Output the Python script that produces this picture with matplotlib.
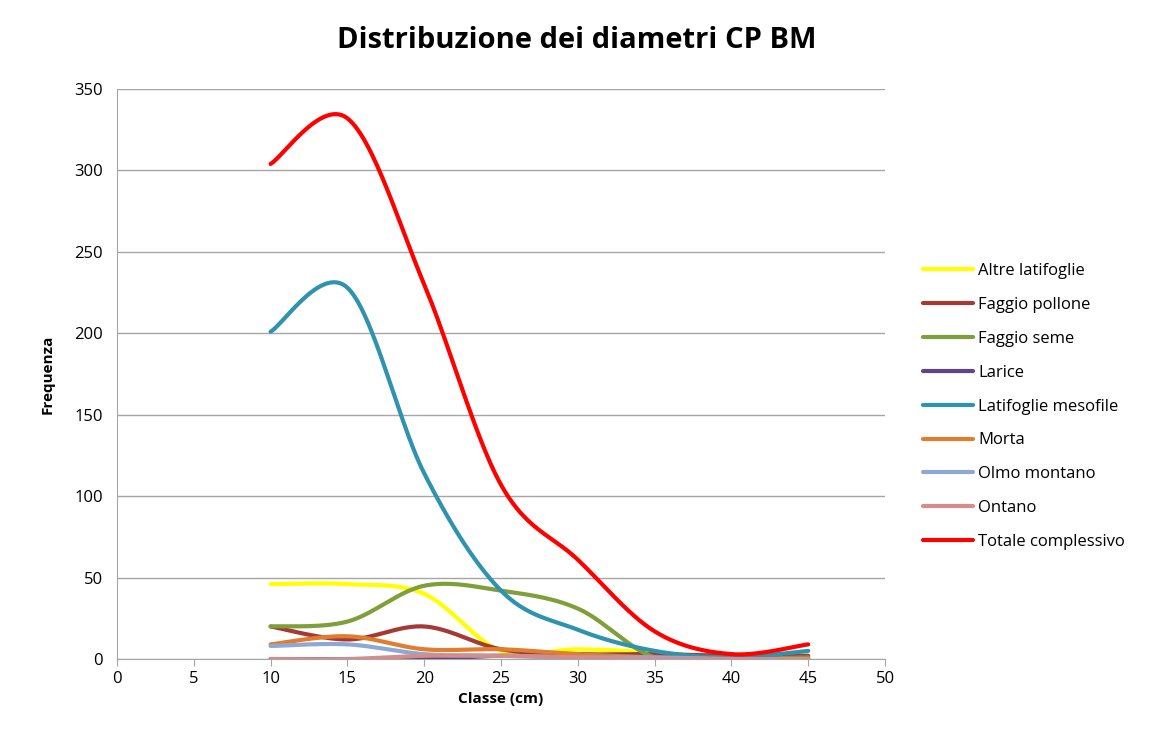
import numpy as np
from matplotlib import pyplot as plt

# diameter classes (cm)
classes = [10, 15, 20, 25, 30, 35, 40, 45]

altre_latifoglie = [46, 46, 40, 5, 6, 4, 0, 1]
faggio_pollone = [20, 12, 20, 6, 3, 3, 2, 2]
faggio_seme = [20, 23, 45, 42, 31, 1, 0, 1]
larice = [0, 0, 0, 2, 1, 0, 0, 0]
latifoglie_mesofile = [201, 228, 114, 42, 18, 5, 1, 5]
morta = [9, 14, 6, 6, 3, 1, 0, 0]
olmo_montano = [8, 9, 3, 2, 1, 1, 0, 0]
ontano = [0, 0, 2, 2, 1, 0, 0, 0]
totale = [304, 332, 230, 107, 61, 17, 3, 9]

series = [
    ("Altre latifoglie", altre_latifoglie, "#FFFF00"),
    ("Faggio pollone", faggio_pollone, "#A33A36"),
    ("Faggio seme", faggio_seme, "#7F9F3A"),
    ("Larice", larice, "#5E4587"),
    ("Latifoglie mesofile", latifoglie_mesofile, "#2F93AE"),
    ("Morta", morta, "#E07D2E"),
    ("Olmo montano", olmo_montano, "#8EA8D6"),
    ("Ontano", ontano, "#D58D8B"),
    ("Totale complessivo", totale, "#FF0000"),
]


def smooth(x, y, n=30):
    # Excel-like smoothed line: cubic bezier through the points
    x = np.asarray(x, float)
    y = np.asarray(y, float)
    px = np.concatenate([[x[0]], x, [x[-1]]])
    py = np.concatenate([[y[0]], y, [y[-1]]])
    xs, ys = [], []
    t = np.linspace(0, 1, n)
    for i in range(1, len(px) - 2):
        p0 = np.array([px[i], py[i]])
        p3 = np.array([px[i + 1], py[i + 1]])
        p1 = p0 + (np.array([px[i + 1], py[i + 1]]) - np.array([px[i - 1], py[i - 1]])) / 6
        p2 = p3 - (np.array([px[i + 2], py[i + 2]]) - np.array([px[i], py[i]])) / 6
        b = ((1 - t) ** 3)[:, None] * p0 + (3 * (1 - t) ** 2 * t)[:, None] * p1 \
            + (3 * (1 - t) * t ** 2)[:, None] * p2 + (t ** 3)[:, None] * p3
        xs.extend(b[:, 0])
        ys.extend(b[:, 1])
    return xs, ys


plt.rcParams['font.family'] = ['Open Sans', 'DejaVu Sans']

fig = plt.figure(figsize=(11.54, 7.38), dpi=100)
ax = fig.add_axes([0.1014, 0.107, 0.6655, 0.7724])

for name, vals, col in series:
    sx, sy = smooth(classes, vals)
    ax.plot(sx, sy, color=col, lw=3, label=name, solid_capstyle='round')

ax.set_xlim(0, 50)
ax.set_ylim(0, 350)
ax.set_xticks(range(0, 51, 5))
ax.set_yticks(range(0, 351, 50))
ax.yaxis.grid(True, color="#A6A6A6", lw=1)
ax.set_axisbelow(True)
for s in ["top", "right"]:
    ax.spines[s].set_visible(False)
for s in ["left", "bottom"]:
    ax.spines[s].set_color("#A6A6A6")
ax.tick_params(axis="both", colors="#A6A6A6", labelcolor="black", labelsize=12, length=5)
ax.tick_params(axis="y", length=0, pad=10)

ax.set_xlabel("Classe (cm)", fontsize=11, fontweight="bold")
ax.set_ylabel("Frequenza", fontsize=11, fontweight="bold", labelpad=14)
fig.suptitle("Distribuzione dei diametri CP BM", fontsize=21, fontweight="bold", x=0.5, y=0.965)

ax.legend(loc="center left", bbox_to_anchor=(1.03, 0.443), frameon=False, fontsize=12,
          handlelength=3, labelspacing=1.07, handletextpad=0.3)

fig.savefig("out.png")
